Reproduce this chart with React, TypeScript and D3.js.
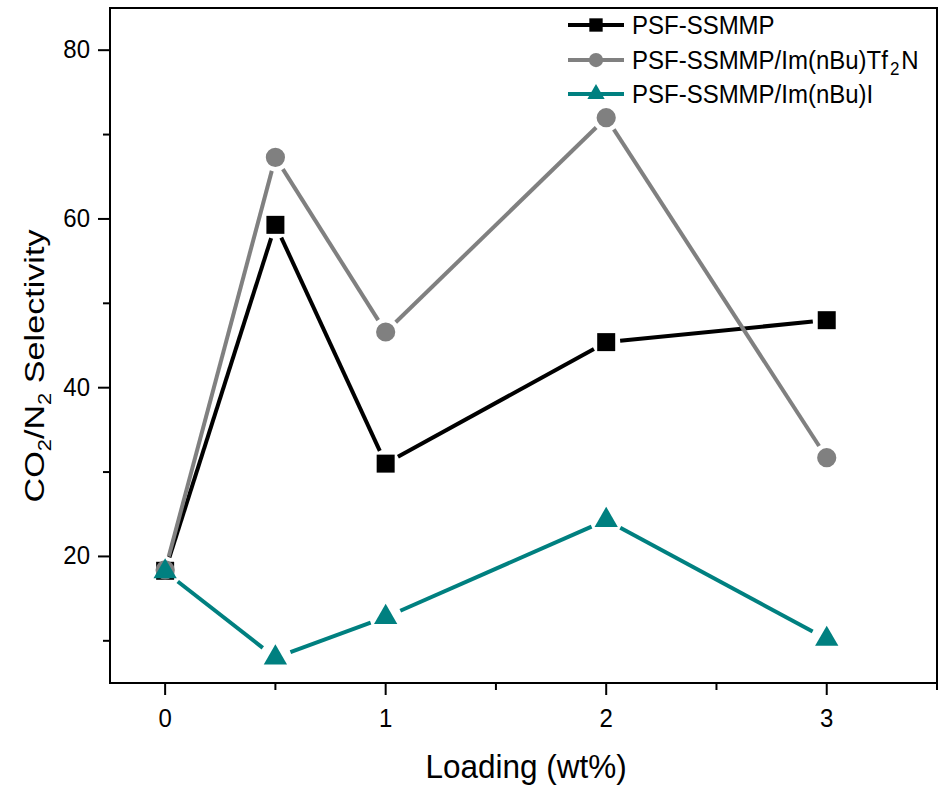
import React, { useEffect, useRef } from 'react'
import * as d3 from 'd3'

const loading = [0, 0.5, 1, 2, 3]
const psfSsmmp = [18.3, 59.3, 31.0, 45.4, 48.0]
const psfTf2n = [18.4, 67.3, 46.6, 72.0, 31.7]
const psfIodide = [18.2, 8.0, 12.8, 24.3, 10.2]

const seriesNames = ['PSF-SSMMP', 'PSF-SSMMP/Im(nBu)Tf2N', 'PSF-SSMMP/Im(nBu)I']
const seriesColors = ['#000000', '#808080', '#008080']

const xMajorTicks = [0, 1, 2, 3]
const xMinorTicks = [0.5, 1.5, 2.5, 3.5]
const yMajorTicks = [20, 40, 60, 80]
const yMinorTicks = [10, 30, 50, 70]

const W = 939
const H = 791
const FONT = 'Liberation Sans, Arial, sans-serif'

export default function App() {
  const ref = useRef<SVGSVGElement>(null)

  useEffect(() => {
    draw()
  }, [])

  const draw = () => {
    const left = 110
    const right = 937
    const top = 8
    const bottom = 683

    const svg = d3.select(ref.current)
    svg.selectAll('*').remove()

    const x = d3.scaleLinear().domain([-0.25, 3.5]).range([left, right])
    const y = d3.scaleLinear().domain([5, 85]).range([bottom, top])

    // frame
    svg
      .append('rect')
      .attr('x', left)
      .attr('y', top)
      .attr('width', right - left)
      .attr('height', bottom - top)
      .attr('fill', 'none')
      .attr('stroke', '#000')
      .attr('stroke-width', 2)

    // x ticks
    const xAxis = svg.append('g')
    xAxis
      .selectAll('line.major')
      .data(xMajorTicks)
      .join('line')
      .attr('x1', (d) => x(d))
      .attr('x2', (d) => x(d))
      .attr('y1', bottom)
      .attr('y2', bottom + 12)
      .attr('stroke', '#000')
      .attr('stroke-width', 2)
    xAxis
      .selectAll('line.minor')
      .data(xMinorTicks)
      .join('line')
      .attr('class', 'minor')
      .attr('x1', (d) => x(d))
      .attr('x2', (d) => x(d))
      .attr('y1', bottom)
      .attr('y2', bottom + 7)
      .attr('stroke', '#000')
      .attr('stroke-width', 2)
    xAxis
      .selectAll('text')
      .data(xMajorTicks)
      .join('text')
      .attr('transform', (d) => `translate(${x(d)},${bottom + 44}) scale(1,1.08)`)
      .attr('text-anchor', 'middle')
      .attr('font-family', FONT)
      .attr('font-size', 24)
      .text((d) => d)

    // y ticks
    const yAxis = svg.append('g')
    yAxis
      .selectAll('line.major')
      .data(yMajorTicks)
      .join('line')
      .attr('x1', left - 12)
      .attr('x2', left)
      .attr('y1', (d) => y(d))
      .attr('y2', (d) => y(d))
      .attr('stroke', '#000')
      .attr('stroke-width', 2)
    yAxis
      .selectAll('line.minor')
      .data(yMinorTicks)
      .join('line')
      .attr('class', 'minor')
      .attr('x1', left - 7)
      .attr('x2', left)
      .attr('y1', (d) => y(d))
      .attr('y2', (d) => y(d))
      .attr('stroke', '#000')
      .attr('stroke-width', 2)
    yAxis
      .selectAll('text')
      .data(yMajorTicks)
      .join('text')
      .attr('transform', (d) => `translate(${left - 20},${y(d) + 8}) scale(1,1.08)`)
      .attr('text-anchor', 'end')
      .attr('font-family', FONT)
      .attr('font-size', 24)
      .text((d) => d)

    // axis titles
    svg
      .append('text')
      .attr('transform', 'translate(526,778) scale(1,1.06)')
      .attr('text-anchor', 'middle')
      .attr('font-family', FONT)
      .attr('font-size', 31.5)
      .text('Loading (wt%)')

    const yTitle = svg
      .append('text')
      .attr('transform', 'translate(44,366) rotate(-90) scale(1.22,1)')
      .attr('text-anchor', 'middle')
      .attr('font-family', FONT)
      .attr('font-size', 28)
    yTitle.append('tspan').text('CO')
    yTitle.append('tspan').attr('font-size', 18).attr('dy', 7).text('2')
    yTitle.append('tspan').attr('dy', -7).text('/N')
    yTitle.append('tspan').attr('font-size', 18).attr('dy', 7).text('2')
    yTitle.append('tspan').attr('dy', -7).text(' Selectivity')

    const allSeries = [psfSsmmp, psfTf2n, psfIodide]
    const symbols = [d3.symbolSquare, d3.symbolCircle, d3.symbolTriangle]
    const sizes = [324, 290, 235]
    const gaps = [14, 14, 16]

    allSeries.forEach((values, si) => {
      const pts = values.map((v, i) => [x(loading[i]), y(v)])
      const segs = []
      for (let i = 0; i < pts.length - 1; i++) {
        const [x1, y1] = pts[i]
        const [x2, y2] = pts[i + 1]
        const len = Math.hypot(x2 - x1, y2 - y1)
        const ux = (x2 - x1) / len
        const uy = (y2 - y1) / len
        const g = gaps[si]
        segs.push([x1 + ux * g, y1 + uy * g, x2 - ux * g, y2 - uy * g])
      }
      const g = svg.append('g')
      g.selectAll('line')
        .data(segs)
        .join('line')
        .attr('x1', (d) => d[0])
        .attr('y1', (d) => d[1])
        .attr('x2', (d) => d[2])
        .attr('y2', (d) => d[3])
        .attr('stroke', seriesColors[si])
        .attr('stroke-width', 4)
      g.selectAll('path')
        .data(pts)
        .join('path')
        .attr('transform', (d) => `translate(${d[0]},${d[1]})`)
        .attr('d', d3.symbol().type(symbols[si]).size(sizes[si]))
        .attr('fill', seriesColors[si])
    })

    // legend
    const legend = svg.append('g')
    const rowY = [25, 60, 94]
    seriesNames.forEach((name, i) => {
      const row = legend.append('g').attr('transform', `translate(0,${rowY[i]})`)
      row
        .append('line')
        .attr('x1', 568)
        .attr('x2', 624)
        .attr('y1', 0)
        .attr('y2', 0)
        .attr('stroke', seriesColors[i])
        .attr('stroke-width', 4)
      row
        .append('path')
        .attr('transform', 'translate(596,0)')
        .attr('d', d3.symbol().type(symbols[i]).size(sizes[i] * 0.55))
        .attr('fill', seriesColors[i])
      const t = row
        .append('text')
        .attr('transform', 'translate(632,9) scale(1,1.05)')
        .attr('font-family', FONT)
        .attr('font-size', 24)
      if (name.includes('Tf2N')) {
        t.append('tspan').text('PSF-SSMMP/Im(nBu)Tf')
        t.append('tspan').attr('font-size', 17).attr('dx', 2).attr('dy', 6).text('2')
        t.append('tspan').attr('dx', 2).attr('dy', -6).text('N')
      } else {
        t.text(name)
      }
    })
  }

  return (
    <svg
      ref={ref}
      width={W}
      height={H}
      style={{ position: 'absolute', left: 0, top: 0, background: '#fff' }}
    />
  )
}
